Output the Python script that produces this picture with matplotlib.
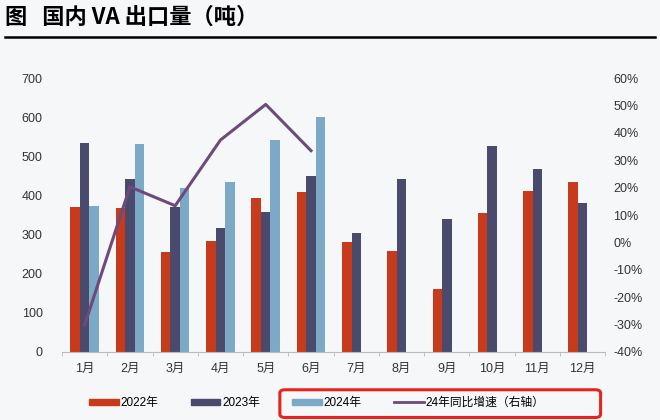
import numpy as np
import matplotlib.pyplot as plt
from matplotlib.patches import Patch, FancyBboxPatch
from matplotlib.lines import Line2D
from matplotlib.ticker import FuncFormatter

plt.rcParams['font.family'] = ['Liberation Sans', 'Noto Sans CJK SC', 'DejaVu Sans']

## data
months = ['1月', '2月', '3月', '4月', '5月', '6月', '7月', '8月', '9月', '10月', '11月', '12月']
y2022 = [371, 367, 256, 283, 393, 409, 280, 259, 162, 355, 412, 434]
y2023 = [533, 443, 370, 318, 359, 450, 304, 443, 339, 527, 467, 382]
y2024 = [374, 532, 418, 435, 541, 600]
growth24 = [-30.1, 20.3, 13.4, 37.4, 50.4, 33.5]  # percent, right axis

c22 = '#C83A1C'
c23 = '#4A4A6C'
c24 = '#7CA9C6'
cline = '#6E4A7C'
bg = '#F6F7F9'

fig = plt.figure(figsize=(6.6, 4.2), dpi=100, facecolor=bg)
ax = fig.add_axes([0.094, 0.162, 0.823, 0.652])
ax.set_facecolor(bg)

x = np.arange(len(months))
w = 0.21
ax.bar(x - w, y2022, w, color=c22)
ax.bar(x, y2023, w, color=c23)
ax.bar(x[:len(y2024)] + w, y2024, w, color=c24)

ax.set_xlim(-0.45, len(months) - 0.5)
ax.set_ylim(0, 700)
ax.set_yticks(range(0, 701, 100))
ax.set_xticks(x)
ax.set_xticklabels(months)
ax.set_xticks(np.arange(-0.5, len(months), 1), minor=True)
ax.tick_params(axis='x', which='major', length=0, pad=8, labelsize=9, colors='#333333')
ax.tick_params(axis='x', which='minor', length=3, color='#BBBBBB')
ax.tick_params(axis='y', length=0, pad=14, labelsize=9, colors='#333333')
for s in ['top', 'right', 'left']:
    ax.spines[s].set_visible(False)
ax.spines['bottom'].set_color('#BBBBBB')

# growth line on right axis
ax2 = ax.twinx()
ax2.plot(x[:len(growth24)], growth24, color=cline, lw=2.2)
ax2.set_ylim(-40, 60)
ax2.set_yticks(range(-40, 61, 10))
ax2.yaxis.set_major_formatter(FuncFormatter(lambda v, p: f'{v:.0f}%'))
ax2.tick_params(axis='y', length=0, pad=6, labelsize=9, colors='#333333')
for s in ax2.spines.values():
    s.set_visible(False)

# title and rule
fig.text(0.008, 0.958, '图   国内 VA 出口量（吨）', fontsize=16, fontweight='bold',
         va='center', ha='left', family=['Noto Sans CJK SC', 'DejaVu Sans'])
fig.add_artist(Line2D([0.008, 0.992], [0.911, 0.911], color='black', lw=1.8))

# legend
handles = [Patch(color=c22), Patch(color=c23), Patch(color=c24),
           Line2D([], [], color=cline, lw=2)]
labels = ['2022年', '2023年', '2024年', '24年同比增速（右轴）']
fig.legend(handles, labels, ncol=4, loc='center left', bbox_to_anchor=(0.128, 0.04),
           frameon=False, fontsize=8.5, handlelength=2.5, handleheight=0.5,
           handletextpad=0.15, columnspacing=2.75, borderaxespad=0)
fig.add_artist(FancyBboxPatch((0.424, 0.006), 0.486, 0.066, boxstyle='round,pad=0,rounding_size=0.008',
                              transform=fig.transFigure, fill=False, ec='#E8231C', lw=2.2))

fig.savefig('out.png', dpi=100, facecolor=bg)
